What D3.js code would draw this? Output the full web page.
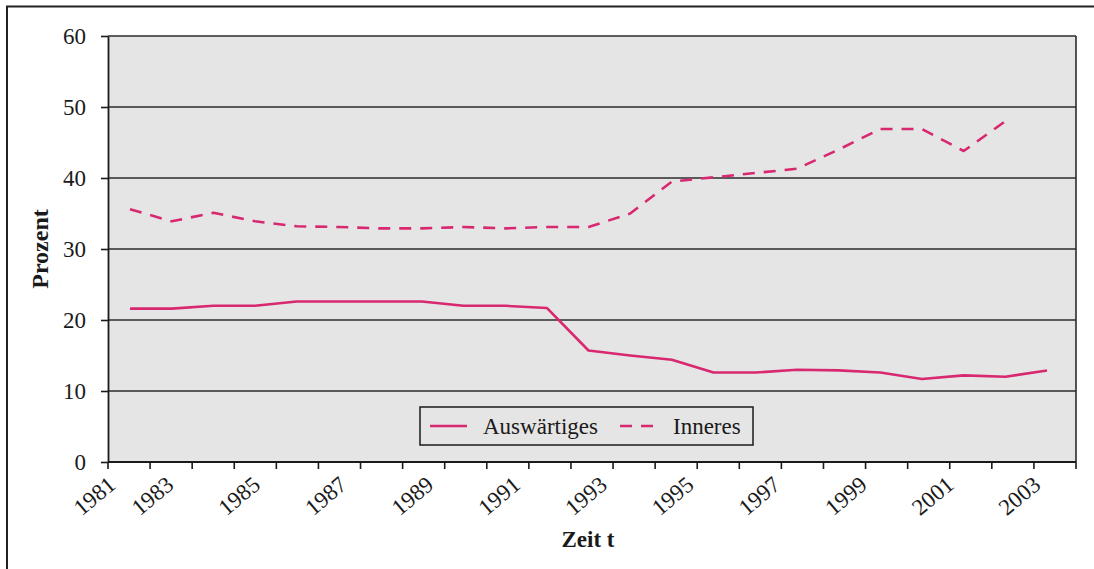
<!DOCTYPE html>
<html>
<head>
<meta charset="utf-8">
<script src="https://cdn.jsdelivr.net/npm/d3@7"></script>
<style>
    body { margin: 0; background: #fff; }
    text { font-family: "Liberation Serif", "Times New Roman", serif; fill: #1a1a1a; }
</style>
</head>
<body>
<div id="chart"></div>
<script>
// data
var years = [1981, 1982, 1983, 1984, 1985, 1986, 1987, 1988, 1989, 1990, 1991, 1992,
             1993, 1994, 1995, 1996, 1997, 1998, 1999, 2000, 2001, 2002, 2003];
var auswaertiges = [21.6, 21.6, 22.0, 22.0, 22.6, 22.6, 22.6, 22.6, 22.0, 22.0, 21.7, 15.7,
                    15.0, 14.4, 12.6, 12.6, 13.0, 12.9, 12.6, 11.7, 12.2, 12.0, 12.9];
var inneres = [35.6, 33.9, 35.1, 33.9, 33.2, 33.1, 32.9, 32.9, 33.1, 32.9, 33.1, 33.1,
               35.0, 39.5, 40.1, 40.7, 41.3, 44.0, 46.9, 46.9, 43.8, 48.0, null];
var yTicks = [0, 10, 20, 30, 40, 50, 60];
var xLabels = [1981, 1983, 1985, 1987, 1989, 1991, 1993, 1995, 1997, 1999, 2001, 2003];
var seriesNames = ["Auswärtiges", "Inneres"];

function lineChart(){
    var cfg = {
        w: 1094,
        h: 569,
        left: 108,
        right: 1076,
        top: 36,
        bottom: 462,
        color: "#d8286f",
        fontSize: 23
    };

    var svg = d3.select("#chart")
        .append("svg")
        .attr("width", cfg.w)
        .attr("height", cfg.h);

    // outer frame (runs off the right and bottom of the picture)
    svg.append("rect")
        .attr("x", 7)
        .attr("y", 6.5)
        .attr("width", cfg.w + 20)
        .attr("height", cfg.h + 20)
        .attr("fill", "none")
        .attr("stroke", "#222")
        .attr("stroke-width", 2);

    var y = d3.scaleLinear()
        .domain([0, 60])
        .range([cfg.bottom, cfg.top]);

    // category bands -> tick marks between years
    var band = d3.scaleBand()
        .domain(years)
        .range([cfg.left, cfg.right])
        .padding(0);

    // data points sit a bit tighter than the bands in the original
    var x = d3.scalePoint()
        .domain(years)
        .range([cfg.left + 22, cfg.left + 939]);

    // tick labels are spaced on their own
    var labelX = d3.scaleLinear()
        .domain([1983, 2003])
        .range([cfg.left + 67, cfg.left + 934]);

    // plot background
    svg.append("rect")
        .attr("x", cfg.left)
        .attr("y", cfg.top)
        .attr("width", cfg.right - cfg.left)
        .attr("height", cfg.bottom - cfg.top)
        .attr("fill", "#e5e5e5");

    // gridlines
    svg.append("g")
        .selectAll("line")
        .data(yTicks.filter(function(d){ return d > 0; }))
        .enter()
        .append("line")
        .attr("x1", cfg.left)
        .attr("x2", cfg.right)
        .attr("y1", function(d){ return y(d); })
        .attr("y2", function(d){ return y(d); })
        .attr("stroke", "#2b2b2b")
        .attr("stroke-width", 1.6);

    // right border of plot
    svg.append("line")
        .attr("x1", cfg.right).attr("x2", cfg.right)
        .attr("y1", cfg.top).attr("y2", cfg.bottom)
        .attr("stroke", "#2b2b2b")
        .attr("stroke-width", 1.6);

    // y axis
    var yAxis = svg.append("g")
        .attr("transform", "translate(" + cfg.left + ",0)")
        .call(d3.axisLeft(y).tickValues(yTicks).tickSize(7).tickSizeOuter(0).tickFormat(d3.format("d")));
    yAxis.select(".domain").attr("stroke", "#1a1a1a").attr("stroke-width", 1.8);
    yAxis.selectAll(".tick line").attr("stroke", "#1a1a1a").attr("stroke-width", 1.6);
    yAxis.selectAll(".tick text")
        .attr("x", -22)
        .attr("dy", "0.34em")
        .style("font-size", cfg.fontSize + "px")
        .style("font-family", "Liberation Serif")
        .attr("fill", "#1a1a1a");

    // x axis: ticks at band edges
    var edges = band.domain().map(function(d){ return band(d); }).concat([cfg.right]);
    var xAxis = svg.append("g");
    xAxis.append("line")
        .attr("x1", cfg.left).attr("x2", cfg.right)
        .attr("y1", cfg.bottom).attr("y2", cfg.bottom)
        .attr("stroke", "#1a1a1a")
        .attr("stroke-width", 1.8);
    xAxis.selectAll(".xtick")
        .data(edges)
        .enter()
        .append("line")
        .attr("class", "xtick")
        .attr("x1", function(d){ return d; })
        .attr("x2", function(d){ return d; })
        .attr("y1", cfg.bottom)
        .attr("y2", cfg.bottom + 7)
        .attr("stroke", "#1a1a1a")
        .attr("stroke-width", 1.6);
    xAxis.selectAll(".xlabel")
        .data(xLabels)
        .enter()
        .append("text")
        .attr("class", "xlabel")
        .attr("transform", function(d){
            var lx = d === xLabels[0] ? cfg.left + 9 : labelX(d);
            return "translate(" + lx + "," + (cfg.bottom + 25) + ") rotate(-40)";
        })
        .style("text-anchor", "end")
        .style("font-size", cfg.fontSize + "px")
        .text(function(d){ return d; });

    // axis titles
    svg.append("text")
        .attr("x", 588)
        .attr("y", 547)
        .style("text-anchor", "middle")
        .style("font-size", cfg.fontSize + "px")
        .style("font-weight", "bold")
        .text("Zeit t");

    svg.append("text")
        .attr("transform", "translate(48," + y(30) + ") rotate(-90)")
        .style("text-anchor", "middle")
        .style("font-size", (cfg.fontSize + 1) + "px")
        .style("font-weight", "bold")
        .text("Prozent");

    // lines
    var line = d3.line()
        .defined(function(d){ return d.v !== null; })
        .x(function(d){ return x(d.year); })
        .y(function(d){ return y(d.v); });

    var series = [auswaertiges, inneres].map(function(vals, i){
        return {
            name: seriesNames[i],
            dash: i === 0 ? null : "12,9",
            values: years.map(function(yr, j){ return { year: yr, v: vals[j] }; })
        };
    });

    svg.selectAll(".series")
        .data(series)
        .enter()
        .append("path")
        .attr("class", "series")
        .attr("d", function(d){ return line(d.values); })
        .attr("fill", "none")
        .attr("stroke", cfg.color)
        .attr("stroke-width", 2.6)
        .attr("stroke-linejoin", "round")
        .attr("stroke-dasharray", function(d){ return d.dash; });

    // legend
    var legend = svg.append("g")
        .attr("class", "legend")
        .attr("transform", "translate(420,407)");
    legend.append("rect")
        .attr("width", 333)
        .attr("height", 38)
        .attr("fill", "#e5e5e5")
        .attr("stroke", "#1a1a1a")
        .attr("stroke-width", 1.5);
    var item = legend.selectAll(".item")
        .data(series)
        .enter()
        .append("g")
        .attr("class", "item")
        .attr("transform", function(d, i){ return "translate(" + (i === 0 ? 10 : 200) + ",0)"; });
    item.append("line")
        .attr("x1", 0).attr("x2", 37)
        .attr("y1", 19).attr("y2", 19)
        .attr("stroke", cfg.color)
        .attr("stroke-width", 2.6)
        .attr("stroke-dasharray", function(d){ return d.dash; });
    item.append("text")
        .attr("x", 53)
        .attr("y", 27)
        .style("font-size", cfg.fontSize + "px")
        .text(function(d){ return d.name; });
}

window.onload = lineChart;
</script>
</body>
</html>
